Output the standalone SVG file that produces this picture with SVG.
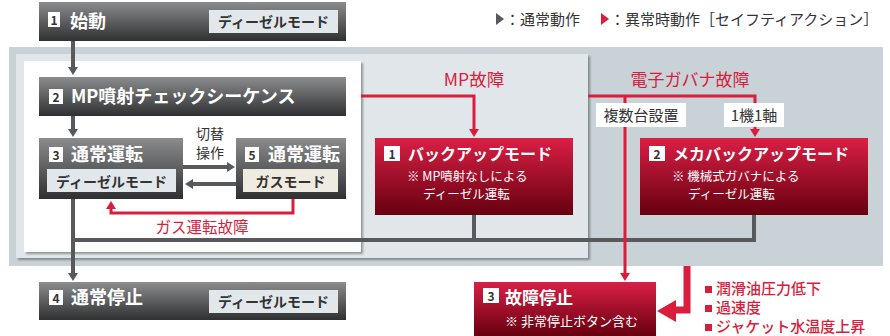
<svg xmlns="http://www.w3.org/2000/svg" width="890" height="336" viewBox="0 0 890 336">
<defs>
<linearGradient id="gd" x1="0" y1="0" x2="0" y2="1"><stop offset="0" stop-color="#8a8c8e"/><stop offset="1" stop-color="#2e3032"/></linearGradient>
<linearGradient id="gr" x1="0" y1="0" x2="0" y2="1"><stop offset="0" stop-color="#da1f45"/><stop offset="1" stop-color="#66000f"/></linearGradient>
<filter id="sh" x="-5%" y="-5%" width="110%" height="115%"><feDropShadow dx="2" dy="2" stdDeviation="1.3" flood-color="#000" flood-opacity="0.35"/></filter>
<marker id="ag" viewBox="0 0 8 10" markerWidth="8" markerHeight="10" refX="4" refY="5" orient="auto" markerUnits="userSpaceOnUse"><path d="M0,0 L8,5 L0,10z" fill="#58595b"/></marker>
<marker id="ar" viewBox="0 0 8 10" markerWidth="8" markerHeight="10" refX="4" refY="5" orient="auto" markerUnits="userSpaceOnUse"><path d="M0,0 L8,5 L0,10z" fill="#d81e3c"/></marker>
</defs>
<style>
text{font-family:"Noto Sans CJK JP","Noto Sans",sans-serif}
.t{font-size:18px;font-weight:bold;fill:#fff}
.tr{font-size:16px;font-weight:bold;fill:#fff}
.n{font-size:12px;font-weight:bold;fill:#333;text-anchor:middle}
.lb{font-size:14px;font-weight:bold;fill:#333;text-anchor:middle}
.s{font-size:12.5px;fill:#fff}
.g{fill:none;stroke:#58595b;stroke-width:4}
.r{fill:none;stroke:#d81e3c;stroke-width:3}
.rt{font-size:17px;fill:#d81e3c;text-anchor:middle}
.dk{font-size:15px;fill:#333}
.bl{font-size:15px;fill:#d81e3c;font-weight:500}
</style>
<g id="panels">
<rect x="9" y="47" width="874" height="219" fill="#c8d2d7"/>
<rect x="16" y="54" width="572" height="204" fill="#e0e6ea" filter="url(#sh)"/>
<rect x="24" y="61" width="337" height="191" fill="#fff" filter="url(#sh)"/>
</g>
<g id="legend">
<path d="M496,13 L504,19 L496,25z" fill="#58595b"/>
<text x="505" y="25" class="dk">：通常動作</text>
<path d="M601,13 L609,19 L601,25z" fill="#d81e3c"/>
<text x="610" y="25" class="dk">：異常時動作［セイフティアクション］</text>
</g>
<g id="connectors">
<path class="g" d="M73,41 V71" marker-end="url(#ag)"/>
<path class="g" d="M73,116 V133" marker-end="url(#ag)"/>
<path class="g" d="M73,199 V277" marker-end="url(#ag)"/>
<path class="g" d="M754,215 V240 H73 M474,215 V240"/>
<path class="g" d="M183,167 H231" marker-end="url(#ag)"/>
<path class="g" d="M236,184 H189" marker-end="url(#ag)"/>
<path class="r" d="M293,198 V213 H111 V205" marker-end="url(#ar)"/>
<path class="r" d="M361,96 H474 V133" marker-end="url(#ar)"/>
<path class="r" d="M588,96 H755 V133" marker-end="url(#ar)"/>
<path class="r" d="M625,96 V277" marker-end="url(#ar)"/>
<path d="M687,266 V310 H672" fill="none" stroke="#d81e3c" stroke-width="7"/>
<path d="M657,311 L676,300 L676,322z" fill="#d81e3c"/>
<text x="210" y="138.5" class="dk" text-anchor="middle" style="font-size:14px">切替</text>
<text x="210" y="158" class="dk" text-anchor="middle" style="font-size:14px">操作</text>
<text x="202" y="233" class="rt" style="font-size:15.5px">ガス運転故障</text>
<text x="474" y="86" class="rt" style="font-size:17.5px">MP故障</text>
<text x="690" y="86" class="rt">電子ガバナ故障</text>
<rect x="596" y="103" width="90" height="24" fill="#fff"/>
<text x="641" y="121" class="dk" text-anchor="middle">複数台設置</text>
<rect x="724" y="103" width="60" height="24" fill="#fff"/>
<text x="754" y="121" class="dk" text-anchor="middle">1機1軸</text>
</g>
<g id="node-start">
<rect x="39" y="2" width="307" height="39" fill="url(#gd)"/>
<rect x="48" y="12" width="12" height="15" fill="#fff"/>
<text x="54" y="24.5" class="n">1</text>
<text x="70" y="28" class="t">始動</text>
<rect x="209" y="10" width="129" height="23" fill="#e2e7eb"/>
<text x="273.5" y="27" class="lb">ディーゼルモード</text>
</g>
<g id="node-check">
<rect x="39" y="77" width="307" height="39" fill="url(#gd)"/>
<rect x="49" y="89" width="14" height="15" fill="#fff"/>
<text x="56" y="101.5" class="n">2</text>
<text x="71" y="103" class="t">MP噴射チェックシーケンス</text>
</g>
<g id="node-diesel">
<rect x="39" y="138" width="144" height="61" fill="url(#gd)"/>
<rect x="49" y="147" width="14" height="15" fill="#fff"/>
<text x="56" y="159.5" class="n">3</text>
<text x="71" y="161" class="t">通常運転</text>
<rect x="47" y="169" width="129" height="23" fill="#e2e7eb"/>
<text x="111.5" y="186.5" class="lb">ディーゼルモード</text>
</g>
<g id="node-gas">
<rect x="236" y="138" width="110" height="61" fill="url(#gd)"/>
<rect x="245" y="147" width="14" height="15" fill="#fff"/>
<text x="252" y="159.5" class="n">5</text>
<text x="268" y="161" class="t">通常運転</text>
<rect x="243" y="169" width="95" height="23" fill="#efebe1"/>
<text x="290.5" y="186.5" class="lb">ガスモード</text>
</g>
<g id="node-stop">
<rect x="39" y="282" width="307" height="38" fill="url(#gd)"/>
<rect x="49" y="290" width="14" height="15" fill="#fff"/>
<text x="56" y="302.5" class="n">4</text>
<text x="71" y="304" class="t">通常停止</text>
<rect x="209" y="290" width="129" height="23" fill="#e2e7eb"/>
<text x="273.5" y="307" class="lb">ディーゼルモード</text>
</g>
<g id="node-backup">
<rect x="375" y="138" width="198" height="77" fill="url(#gr)"/>
<rect x="384" y="146" width="16" height="15" fill="#fff"/>
<text x="392" y="158.5" class="n">1</text>
<text x="408" y="160" class="tr">バックアップモード</text>
<text x="407" y="181" class="s">※ MP噴射なしによる</text>
<text x="423" y="199" class="s">ディーゼル運転</text>
</g>
<g id="node-mecha">
<rect x="640" y="138" width="228" height="77" fill="url(#gr)"/>
<rect x="649" y="146" width="16" height="15" fill="#fff"/>
<text x="657" y="158.5" class="n">2</text>
<text x="673" y="160" class="tr">メカバックアップモード</text>
<text x="672" y="181" class="s">※ 機械式ガバナによる</text>
<text x="688" y="199" class="s">ディーゼル運転</text>
</g>
<g id="node-fault">
<rect x="474" y="282" width="182" height="54" fill="url(#gr)"/>
<rect x="483" y="288" width="16" height="15" fill="#fff"/>
<text x="491" y="300.5" class="n">3</text>
<text x="505" y="304" class="tr" style="font-size:17px">故障停止</text>
<text x="505" y="326" class="s" style="font-size:13px">※ 非常停止ボタン含む</text>
</g>
<g id="causes">
<rect x="705" y="286" width="7" height="7" fill="#d81e3c"/>
<text x="716" y="294" class="bl">潤滑油圧力低下</text>
<rect x="705" y="305" width="7" height="7" fill="#d81e3c"/>
<text x="716" y="313" class="bl">過速度</text>
<rect x="705" y="324" width="7" height="7" fill="#d81e3c"/>
<text x="716" y="332" class="bl">ジャケット水温度上昇</text>
</g>
</svg>
